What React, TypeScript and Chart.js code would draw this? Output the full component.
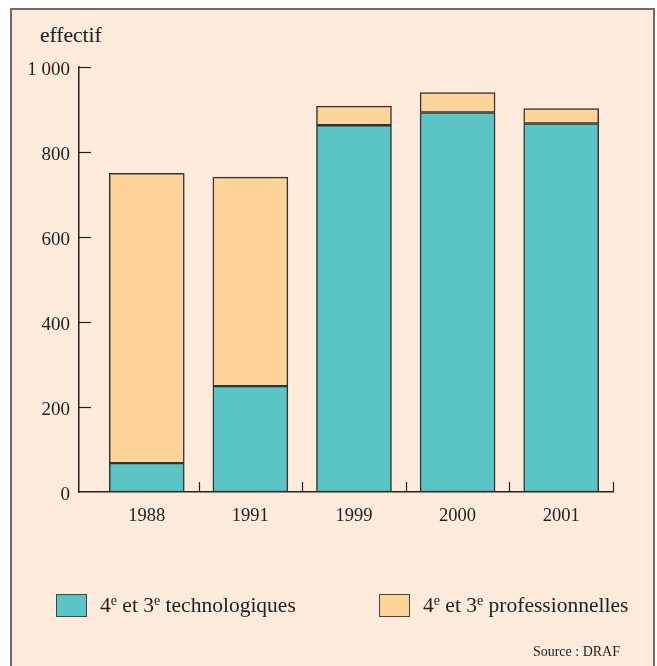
import React, { useEffect, useRef } from "react";
import { Chart, registerables } from "chart.js";

Chart.register(...registerables);

const years = ["1988", "1991", "1999", "2000", "2001"];
const tech = [68, 249, 863, 893, 867];
const prof = [682, 492, 45, 47, 35];
const yTicks = [0, 200, 400, 600, 800, 1000];
const boundaries = [0.5, 1.5, 2.5, 3.5, 4.5];

const TEAL = "#5BC5C5";
const ORANGE = "#FED49A";
const BG = "#FEEBDC";
const INK = "#222222";
const FONT = '"Liberation Serif", "Times New Roman", serif';

const tickMarks = {
  id: "tickMarks",
  afterDraw(chart: any) {
    const { ctx } = chart;
    const x = chart.scales.x;
    const y = chart.scales.y;
    ctx.save();
    ctx.strokeStyle = INK;
    ctx.lineWidth = 1.2;
    yTicks.forEach((v) => {
      if (v === 0) return;
      const py = Math.round(y.getPixelForValue(v)) + 0.5;
      ctx.beginPath();
      ctx.moveTo(x.left, py);
      ctx.lineTo(x.left + 12, py);
      ctx.stroke();
    });
    boundaries.forEach((b) => {
      const px = Math.round(x.getPixelForValue(b)) + 0.5;
      ctx.beginPath();
      ctx.moveTo(px, y.bottom);
      ctx.lineTo(px, y.bottom - 10);
      ctx.stroke();
    });
    ctx.restore();
  },
};

export default function App() {
  const ref = useRef<HTMLCanvasElement>(null);

  useEffect(() => {
    const prevMargin = document.body.style.margin;
    document.body.style.margin = "0";
    const chart = new Chart(ref.current as HTMLCanvasElement, {
      type: "bar",
      data: {
        datasets: [
          {
            label: "4e et 3e technologiques",
            data: tech.map((v, i) => ({ x: i, y: v })),
            backgroundColor: TEAL,
            borderColor: "#333",
            borderWidth: 1.5,
            borderSkipped: false,
            barThickness: 75,
          },
          {
            label: "4e et 3e professionnelles",
            data: prof.map((v, i) => ({ x: i, y: v })),
            backgroundColor: ORANGE,
            borderColor: "#333",
            borderWidth: 1.5,
            borderSkipped: false,
            barThickness: 75,
          },
        ],
      },
      options: {
        animation: false,
        responsive: false,
        layout: { padding: { left: 0, top: 67, right: 44, bottom: 134 } },
        plugins: { legend: { display: false }, tooltip: { enabled: false } },
        scales: {
          x: {
            type: "linear",
            stacked: true,
            offset: false,
            min: -0.654,
            max: 4.5,
            afterBuildTicks: (s: any) => {
              s.ticks = years.map((_, i) => ({ value: i }));
            },
            afterFit: (s: any) => {
              s.height = 40;
            },
            ticks: {
              callback: (v: any) => years[v as number] ?? "",
              color: INK,
              font: { family: FONT, size: 18.5 },
              padding: 13,
              autoSkip: false,
              maxRotation: 0,
            },
            grid: { display: false, drawTicks: false, offset: false },
            border: { display: true, color: INK, width: 1.5 },
          },
          y: {
            stacked: true,
            min: 0,
            max: 1000,
            afterBuildTicks: (s: any) => {
              s.ticks = yTicks.map((v) => ({ value: v }));
            },
            afterFit: (s: any) => {
              s.width = 79;
            },
            ticks: {
              callback: (v: any) => (v === 1000 ? "1 000" : String(v)),
              color: INK,
              font: { family: FONT, size: 19 },
              padding: 9,
              labelOffset: 3,
            },
            grid: { display: false, drawTicks: false },
            border: { display: true, color: INK, width: 1.5 },
          },
        },
      },
      plugins: [tickMarks],
    } as any);
    return () => {
      chart.destroy();
      document.body.style.margin = prevMargin;
    };
  }, []);

  const sq = (color: string, left: number) => (
    <div
      style={{
        position: "absolute",
        left,
        top: 594,
        width: 29,
        height: 21,
        background: color,
        border: "1.5px solid #444",
      }}
    />
  );

  const supStyle = { fontSize: 14, verticalAlign: "top", lineHeight: "18px" } as const;

  const txt = (left: number, word: string) => (
    <div
      style={{
        position: "absolute",
        left,
        top: 592,
        fontFamily: FONT,
        fontSize: 21.5,
        color: INK,
        whiteSpace: "nowrap",
        lineHeight: "26px",
      }}
    >
      4<sup style={supStyle}>e</sup> et 3<sup style={supStyle}>e</sup> {word}
    </div>
  );

  return (
    <div
      style={{
        position: "fixed",
        left: 0,
        top: 0,
        width: 657,
        height: 666,
        background: "#fff",
        overflow: "hidden",
      }}
    >
      <div
        style={{
          position: "absolute",
          left: 10,
          top: 8,
          width: 641,
          height: 680,
          background: BG,
          border: "2px solid #6f6a66",
        }}
      />
      <div
        style={{
          position: "absolute",
          left: 40,
          top: 22,
          fontFamily: FONT,
          fontSize: 21.5,
          color: INK,
          lineHeight: "26px",
        }}
      >
        effectif
      </div>
      <canvas
        ref={ref}
        width={657}
        height={666}
        style={{ position: "absolute", left: 0, top: 0, display: "block" }}
      />
      {sq(TEAL, 56)}
      {txt(100, "technologiques")}
      {sq(ORANGE, 379)}
      {txt(423, "professionnelles")}
      <div
        style={{
          position: "absolute",
          right: 37,
          top: 643,
          fontFamily: FONT,
          fontSize: 14,
          color: INK,
          whiteSpace: "nowrap",
          lineHeight: "18px",
        }}
      >
        Source : DRAF
      </div>
    </div>
  );
}
